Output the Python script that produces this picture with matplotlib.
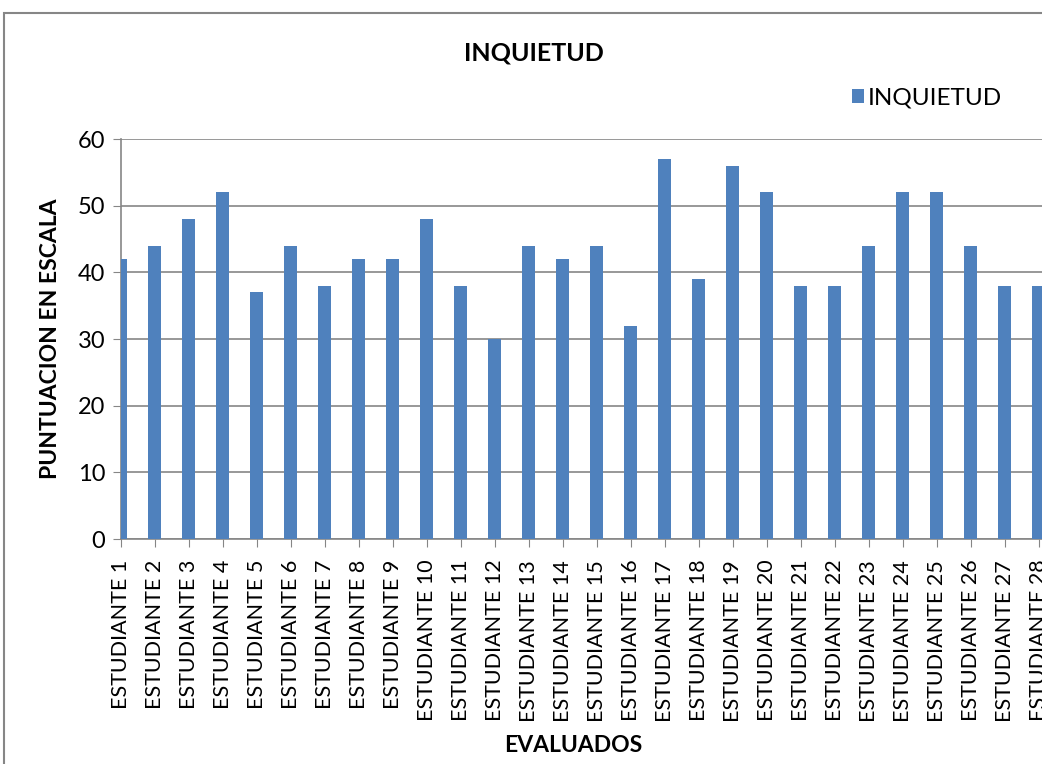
import matplotlib
matplotlib.use("Agg")
import matplotlib.pyplot as plt
from matplotlib.patches import Rectangle

plt.rcParams['font.family'] = ['Lato', 'DejaVu Sans']

# data
students = [f"ESTUDIANTE {i}" for i in range(1, 29)]
scores = [42, 44, 48, 52, 37, 44, 38, 42, 42, 48, 38, 30, 44, 42,
          44, 32, 57, 39, 56, 52, 38, 38, 44, 52, 52, 44, 38, 38]
yticks = [0, 10, 20, 30, 40, 50, 60]

W, H = 1042, 764
fig = plt.figure(figsize=(W / 100, H / 100), dpi=100)
ax = fig.add_axes([120.7 / W, 1 - 539 / H, (W - 120.7) / W, 400 / H])

grey = "#868686"
x = list(range(len(students)))
ax.bar(x, scores, width=0.38, color="#4F81BD", zorder=3, label="INQUIETUD")

ax.set_xlim(0, 27.1)
ax.set_ylim(0, 60)
ax.set_yticks(yticks)
ax.set_xticks(x)
ax.set_xticklabels(students, rotation=90, fontsize=15.5)
ax.tick_params(axis="y", labelsize=17, length=6, color=grey, pad=5)
ax.tick_params(axis="x", length=6, color=grey, pad=9)
ax.grid(axis="y", color=grey, linewidth=1.2, zorder=0)

for s in ["top", "right"]:
    ax.spines[s].set_visible(False)
for s in ["left", "bottom"]:
    ax.spines[s].set_color(grey)
    ax.spines[s].set_linewidth(1.2)

ax.set_ylabel("PUNTUACION EN ESCALA", fontsize=16.5, fontweight="bold", labelpad=12)
fig.text(573 / W, 1 - 746 / H, "EVALUADOS", fontsize=16.5, fontweight="bold",
         ha="center", va="center")
fig.text(534 / W, 1 - 53 / H, "INQUIETUD", fontsize=18, fontweight="bold",
         ha="center", va="center")

fig.legend(loc="center left", bbox_to_anchor=(852 / W, 1 - 98 / H), frameon=False,
           fontsize=17.5, handlelength=0.5, handleheight=0.5, handletextpad=0.15,
           borderpad=0, borderaxespad=0)

# outer chart frame (cut off on the right and bottom)
fig.patches.append(Rectangle((4 / W, -0.05), 1.2, 1.05 - 13 / H,
                             transform=fig.transFigure, fill=False,
                             edgecolor=grey, linewidth=1.5))

fig.savefig("out.png", dpi=100)
